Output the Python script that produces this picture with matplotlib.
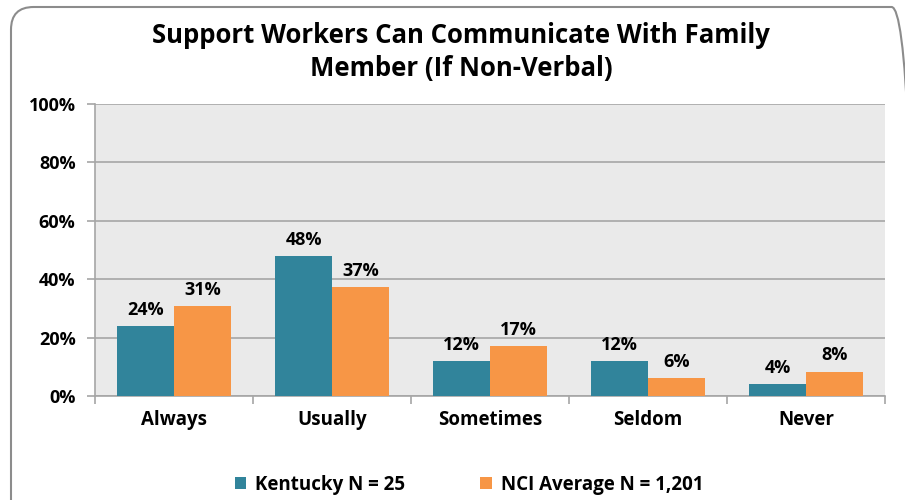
import matplotlib.pyplot as plt
from matplotlib.patches import FancyBboxPatch, Patch
import numpy as np

categories = ['Always', 'Usually', 'Sometimes', 'Seldom', 'Never']
kentucky = [24, 48, 12, 12, 4]
nci = [30.8, 37.3, 17.1, 6.2, 8.3]
kentucky_labels = ['24%', '48%', '12%', '12%', '4%']
nci_labels = ['31%', '37%', '17%', '6%', '8%']
series_names = ['Kentucky N = 25', 'NCI Average N = 1,201']

teal = '#31849B'
orange = '#F79646'

plt.rcParams['font.family'] = ['Open Sans', 'DejaVu Sans']
plt.rcParams['font.weight'] = 'bold'

fig = plt.figure(figsize=(9.05, 5.0), dpi=100)
ax = fig.add_axes([95 / 905, 1 - 396 / 500, 790 / 905, 292 / 500])

# rounded outer frame, runs off the right and bottom edges
frame = FancyBboxPatch((11 / 905, -0.1), 0.998, 1.086,
                       boxstyle='round,pad=0,rounding_size=0.025',
                       transform=fig.transFigure, facecolor='none',
                       edgecolor='#8C8C8C', linewidth=1.5, zorder=0,
                       mutation_aspect=905 / 500)
fig.patches.append(frame)

x = np.arange(len(categories))
w = 0.36
ax.bar(x - w / 2, kentucky, w, color=teal, zorder=3)
ax.bar(x + w / 2, nci, w, color=orange, zorder=3)

for i in range(len(categories)):
    ax.text(x[i] - w / 2, kentucky[i] + 2.5, kentucky_labels[i], ha='center',
            va='bottom', fontsize=13, fontweight='bold')
    ax.text(x[i] + w / 2, nci[i] + 2.5, nci_labels[i], ha='center',
            va='bottom', fontsize=13, fontweight='bold')

ax.set_facecolor('#EAEAEA')
ax.set_xlim(-0.5, len(categories) - 0.5)
ax.set_ylim(0, 100)
ax.set_yticks(range(0, 101, 20))
ax.set_yticklabels([f'{v}%' for v in range(0, 101, 20)], fontsize=13, fontweight='bold')
ax.yaxis.grid(True, color='#A6A6A6', linewidth=1.2, zorder=0)
ax.set_axisbelow(True)

ax.set_xticks(x)
ax.set_xticklabels(categories, fontsize=13.5, fontweight='bold')
ax.tick_params(axis='x', length=0, pad=10)
ax.set_xticks(np.arange(-0.5, len(categories)), minor=True)
ax.tick_params(axis='x', which='minor', length=6, color='#A6A6A6', width=1.2)
ax.tick_params(axis='y', length=6, color='#A6A6A6', width=1.2, pad=8)

for side in ['top', 'right']:
    ax.spines[side].set_visible(False)
ax.spines['left'].set_color('#A6A6A6')
ax.spines['bottom'].set_color('#A6A6A6')
ax.spines['left'].set_linewidth(1.2)
ax.spines['bottom'].set_linewidth(1.2)

fig.text(461 / 905, 1 - 52 / 500, 'Support Workers Can Communicate With Family\nMember (If Non-Verbal)',
         ha='center', va='center', fontsize=18.5, fontweight='bold', linespacing=1.3)

handles = [Patch(facecolor=teal, label=series_names[0]),
           Patch(facecolor=orange, label=series_names[1])]
fig.legend(handles=handles, loc='center', bbox_to_anchor=(469 / 905, 1 - 485 / 500),
           ncol=2, frameon=False, fontsize=13.5, handlelength=0.6, handleheight=0.6,
           columnspacing=4.0, handletextpad=0.5)

fig.savefig('out.png', dpi=100)
